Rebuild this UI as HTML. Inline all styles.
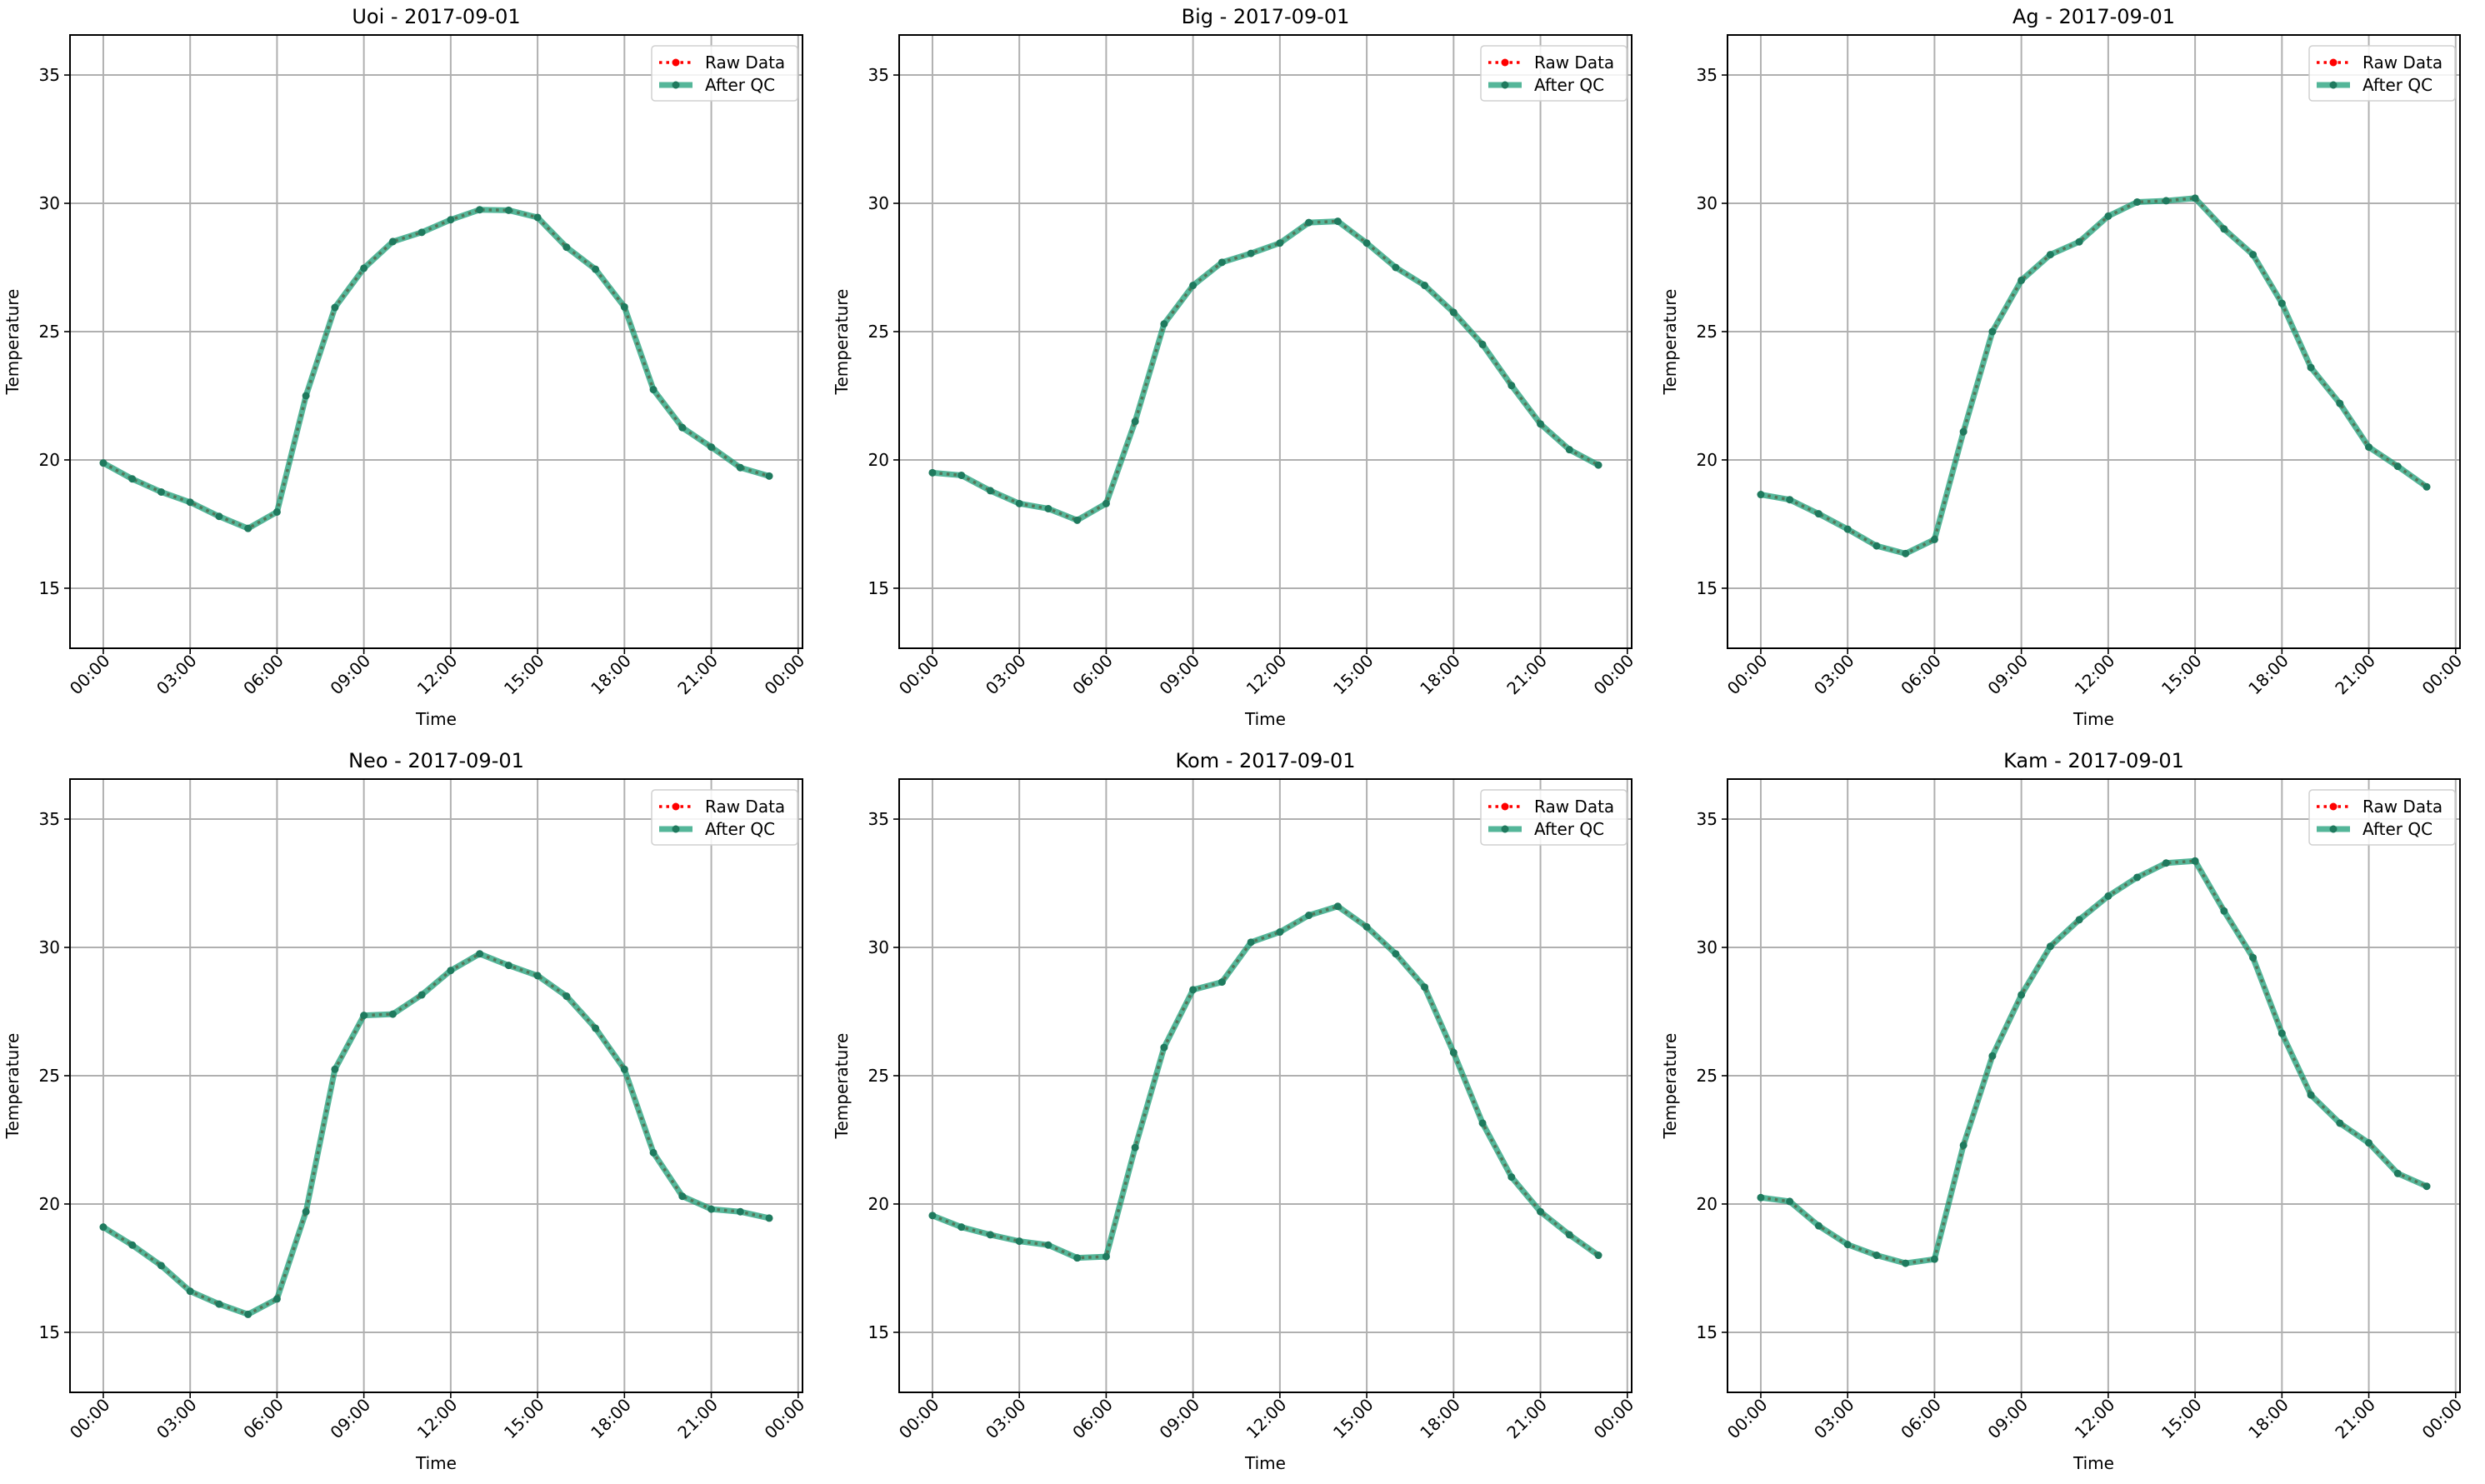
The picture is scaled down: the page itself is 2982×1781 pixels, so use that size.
<!DOCTYPE html>
<html><head><meta charset="utf-8"><style>
html,body{margin:0;padding:0;background:#fff}
svg{display:block;font-family:"DejaVu Sans","Liberation Sans",sans-serif}
</style></head><body>
<svg id="fig" width="2982" height="1781" viewBox="0 0 2982 1781" xmlns="http://www.w3.org/2000/svg"></svg>
<script>
const stations = ["Uoi","Big","Ag","Neo","Kom","Kam"];
const dateLabel = "2017-09-01";
const hours = [0,1,2,3,4,5,6,7,8,9,10,11,12,13,14,15,16,17,18,19,20,21,22,23];
const uoiTemps = [19.88,19.26,18.75,18.35,17.80,17.33,17.97,22.5,25.94,27.47,28.51,28.87,29.36,29.75,29.73,29.45,28.29,27.43,25.96,22.74,21.26,20.50,19.70,19.37];
const bigTemps = [19.5,19.4,18.8,18.3,18.1,17.65,18.3,21.5,25.3,26.8,27.7,28.05,28.45,29.25,29.3,28.45,27.5,26.8,25.75,24.5,22.9,21.4,20.4,19.8];
const agTemps = [18.65,18.45,17.9,17.3,16.65,16.35,16.9,21.1,25.0,27.0,28.0,28.5,29.5,30.05,30.1,30.2,29.0,28.0,26.1,23.6,22.2,20.5,19.75,18.95];
const neoTemps = [19.1,18.4,17.6,16.6,16.1,15.7,16.3,19.7,25.25,27.35,27.4,28.15,29.1,29.75,29.3,28.9,28.1,26.85,25.25,22.0,20.3,19.8,19.7,19.45];
const komTemps = [19.55,19.1,18.8,18.55,18.4,17.9,17.95,22.2,26.1,28.35,28.65,30.2,30.6,31.25,31.6,30.8,29.75,28.45,25.9,23.15,21.05,19.7,18.8,18.0];
const kamTemps = [20.25,20.10,19.15,18.42,18.0,17.69,17.85,22.29,25.77,28.15,30.04,31.08,32.0,32.73,33.29,33.37,31.42,29.6,26.65,24.25,23.15,22.38,21.19,20.69];
const allTemps = [uoiTemps,bigTemps,agTemps,neoTemps,komTemps,kamTemps];
const yTicks = [15,20,25,30,35];
const xTicks = [0,3,6,9,12,15,18,21,24];
const xTickLabels = ["00:00","03:00","06:00","09:00","12:00","15:00","18:00","21:00","00:00"];

const NS="http://www.w3.org/2000/svg";
const svg=document.getElementById('fig');
function mk(tag,attrs,parent){const e=document.createElementNS(NS,tag);for(const k in attrs)e.setAttribute(k,attrs[k]);(parent||svg).appendChild(e);return e;}
const colLeft=[84,1079,2073], rowTop=[42,935], W=879, H=736;
const yMin=12.66,yMax=36.56,xMin=-1.15,xMax=24.15;

stations.forEach((st,i)=>{
  const L=colLeft[i%3], T=rowTop[Math.floor(i/3)], B=T+H, R=L+W;
  const xs=h=>L+(h-xMin)/(xMax-xMin)*W;
  const ys=v=>B-(v-yMin)/(yMax-yMin)*H;
  const g=mk('g',{});
  
  
  const gr=mk('g',{stroke:'#b0b0b0','stroke-width':2},g);
  
  
  xTicks.forEach((h,k)=>{
    const x=xs(h);
    mk('line',{x1:x,x2:x,y1:T,y2:B},gr);
    mk('line',{x1:x,x2:x,y1:B,y2:B+7,stroke:'#000','stroke-width':1.6},g);
    const t=mk('text',{x:0,y:0,'font-size':20,'text-anchor':'end',transform:`translate(${x+9},${B+16}) rotate(-45)`},g);
    
    
    t.textContent=xTickLabels[k];
  });
  yTicks.forEach(v=>{
    const y=ys(v);
    mk('line',{x1:L,x2:R,y1:y,y2:y},gr);
    mk('line',{x1:L-7,x2:L,y1:y,y2:y,stroke:'#000','stroke-width':1.6},g);
    const t=mk('text',{x:L-12,y:y+7,'font-size':20,'text-anchor':'end'},g);
    
    
    t.textContent=v;
  });
  const data=allTemps[i];
  const pts=hours.map((h,k)=>xs(h)+','+ys(data[k])).join(' ');
  const raw=mk('polyline',{points:pts,fill:'none',stroke:'#ff0000','stroke-width':3.5,'stroke-dasharray':'3.5,5'},g);
  
  
  const qc=mk('polyline',{points:pts,fill:'none',stroke:'#1b9e77','stroke-opacity':0.75,'stroke-width':7,'stroke-linejoin':'round'},g);
  
  
  hours.forEach((h,k)=>{
    const c=mk('circle',{cx:xs(h),cy:ys(data[k]),r:4.5,fill:'#1f7a5e'},g);
    
    
  });
  const fr=mk('rect',{x:L,y:T,width:W,height:H,fill:'none',stroke:'#000','stroke-width':2},g);
  
  
  const ti=mk('text',{x:L+W/2,y:T-14,'font-size':24,'text-anchor':'middle'},g);
  
  
  ti.textContent=st+' - '+dateLabel;
  const xl=mk('text',{x:L+W/2,y:B+92,'font-size':20,'text-anchor':'middle'},g);
  
  
  xl.textContent='Time';
  const yl=mk('text',{x:0,y:0,'font-size':20,'text-anchor':'middle',transform:`translate(${L-62},${T+H/2}) rotate(-90)`},g);
  
  
  yl.textContent='Temperature';
  const lg=mk('g',{},g);
  
  
  const lx=R-181, ly=T+13;
  mk('rect',{x:lx,y:ly,width:175,height:66,rx:4,fill:'#fff','fill-opacity':0.85,stroke:'#d0d0d0','stroke-width':1.5},lg);
  mk('line',{x1:lx+9,x2:lx+49,y1:ly+20,y2:ly+20,stroke:'#ff0000','stroke-width':3.5,'stroke-dasharray':'3.5,5'},lg);
  mk('circle',{cx:lx+29,cy:ly+20,r:4.5,fill:'#ff0000'},lg);
  const t1=mk('text',{x:lx+64,y:ly+27,'font-size':20},lg);
  
  
  t1.textContent='Raw Data';
  mk('line',{x1:lx+9,x2:lx+49,y1:ly+47,y2:ly+47,stroke:'#1b9e77','stroke-opacity':0.75,'stroke-width':7},lg);
  mk('circle',{cx:lx+29,cy:ly+47,r:4.5,fill:'#1f7a5e'},lg);
  const t2=mk('text',{x:lx+64,y:ly+54,'font-size':20},lg);
  
  
  t2.textContent='After QC';
});
</script>
</body></html>
